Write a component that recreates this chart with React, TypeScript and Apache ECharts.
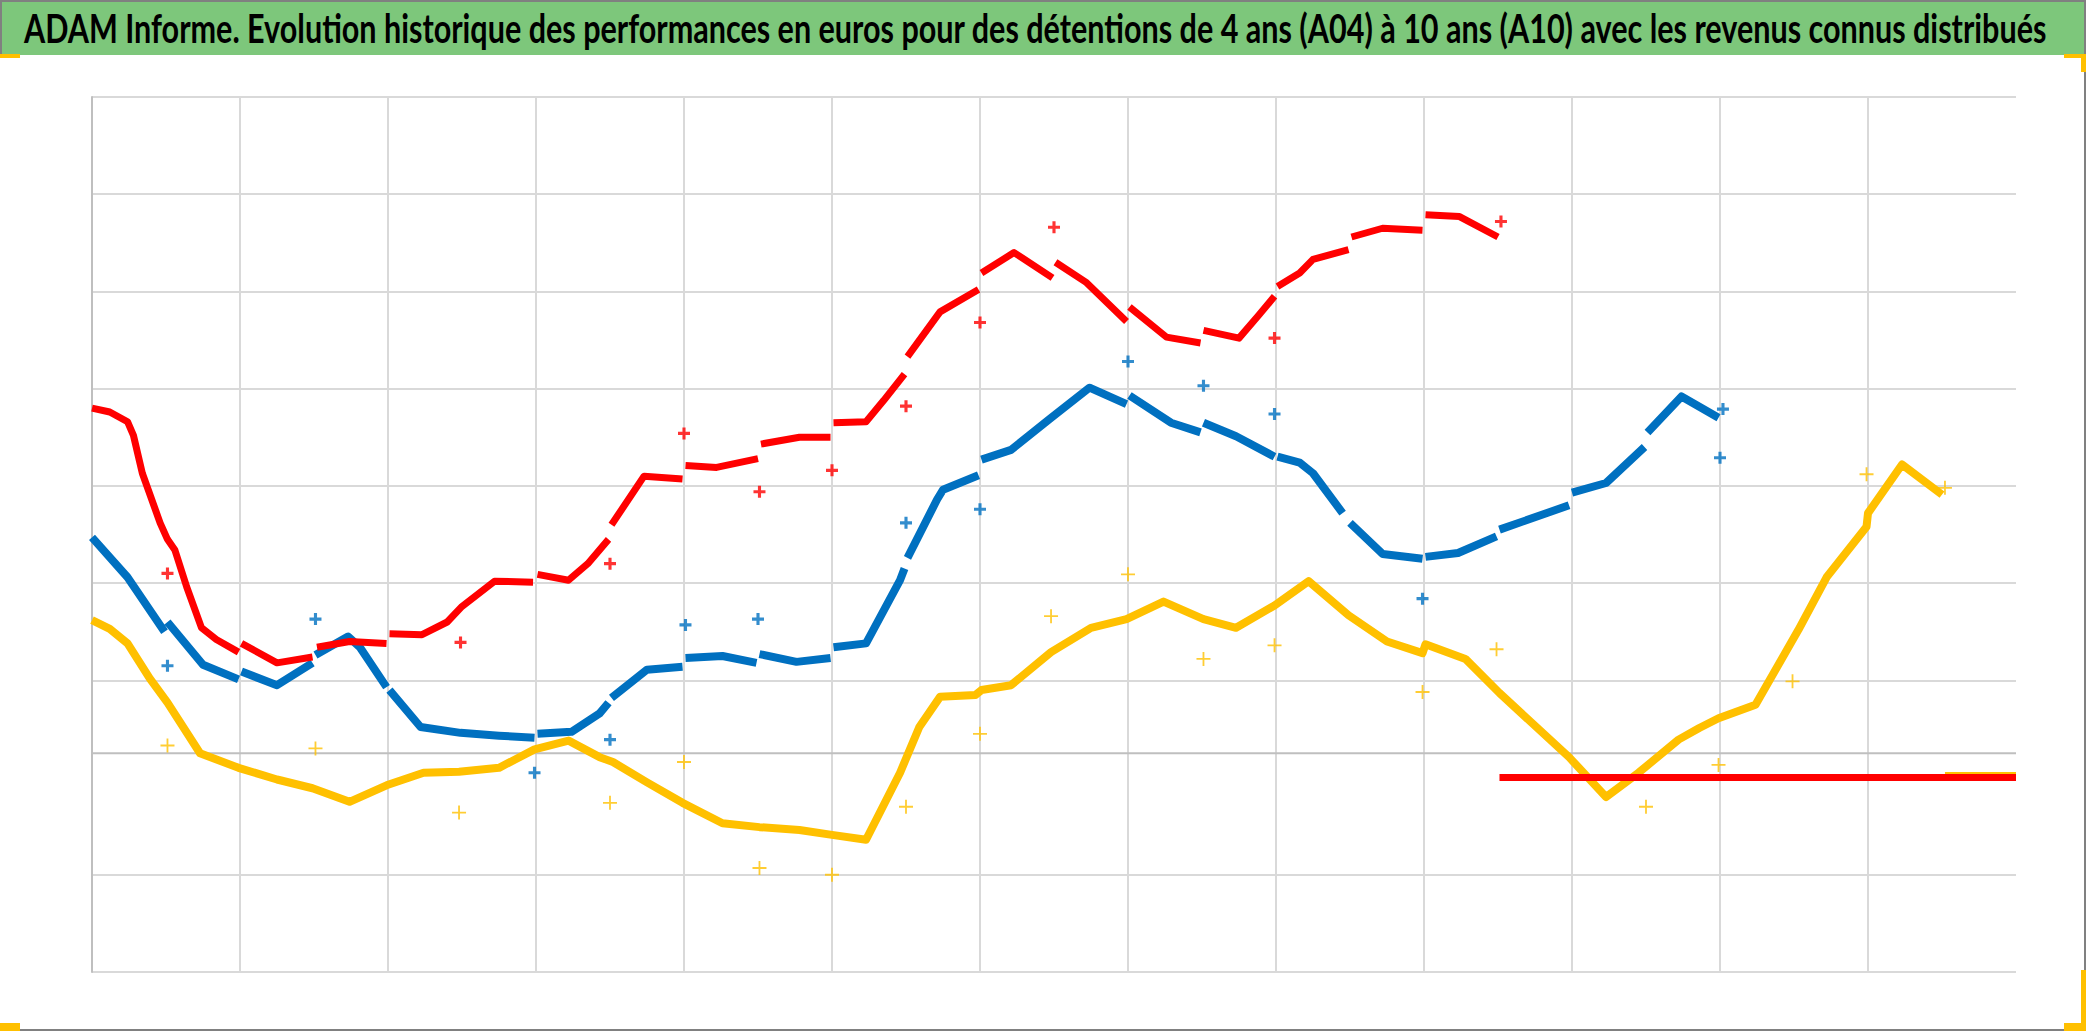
import React, { useEffect, useRef } from 'react';
import * as echarts from 'echarts';

const TITLE =
  'ADAM Informe. Evolution historique des performances en euros pour des détentions de 4 ans (A04) à 10 ans (A10) avec les revenus connus distribués';

// Axis extents (abstract units: one unit per gridline step, no labels are shown)
const X_MIN = 0;
const X_MAX = 13;
const Y_MIN = 0;
const Y_MAX = 9;
const HIDDEN_GRIDLINE = 2; // this horizontal gridline is not drawn in the original
const AXIS_CROSS = 2.25; // darker horizontal axis line

// Main (dense) series, split into segments where the original jumps
const RED_SEGMENTS: number[][][] = [
  [[0.0, 5.8], [0.12, 5.76], [0.24, 5.66], [0.28, 5.52], [0.34, 5.13], [0.46, 4.62], [0.51, 4.45], [0.56, 4.34], [0.64, 3.96], [0.74, 3.54], [0.84, 3.42], [0.99, 3.29]],
  [[1.01, 3.38], [1.25, 3.18], [1.49, 3.24]],
  [[1.52, 3.34], [1.74, 3.4], [1.99, 3.38]],
  [[2.01, 3.48], [2.23, 3.47], [2.4, 3.6], [2.5, 3.76], [2.72, 4.02], [2.98, 4.01]],
  [[3.01, 4.09], [3.22, 4.03], [3.35, 4.2], [3.49, 4.45]],
  [[3.51, 4.6], [3.73, 5.1], [3.99, 5.07]],
  [[4.01, 5.21], [4.22, 5.19], [4.5, 5.28]],
  [[4.52, 5.43], [4.78, 5.5], [4.99, 5.5]],
  [[5.01, 5.65], [5.23, 5.66], [5.35, 5.88], [5.49, 6.15]],
  [[5.51, 6.33], [5.73, 6.79], [5.99, 7.02]],
  [[6.01, 7.19], [6.23, 7.4], [6.49, 7.14]],
  [[6.51, 7.3], [6.72, 7.09], [6.99, 6.69]],
  [[7.01, 6.84], [7.26, 6.53], [7.49, 6.47]],
  [[7.51, 6.6], [7.75, 6.52], [7.88, 6.75], [7.99, 6.95]],
  [[8.01, 7.05], [8.16, 7.19], [8.25, 7.33], [8.49, 7.43]],
  [[8.51, 7.56], [8.72, 7.65], [8.99, 7.63]],
  [[9.01, 7.79], [9.24, 7.77], [9.5, 7.56]],
];

const BLUE_SEGMENTS: number[][][] = [
  [[0.0, 4.47], [0.24, 4.06], [0.49, 3.5]],
  [[0.51, 3.6], [0.75, 3.16], [0.99, 3.01]],
  [[1.01, 3.09], [1.25, 2.95], [1.49, 3.18]],
  [[1.51, 3.26], [1.73, 3.45], [1.81, 3.34], [1.99, 2.93]],
  [[2.01, 2.9], [2.22, 2.52], [2.49, 2.46], [2.75, 2.43], [2.99, 2.41]],
  [[3.01, 2.45], [3.24, 2.47], [3.43, 2.66], [3.49, 2.77]],
  [[3.51, 2.82], [3.75, 3.11], [3.99, 3.14]],
  [[4.01, 3.23], [4.26, 3.25], [4.49, 3.18]],
  [[4.51, 3.27], [4.76, 3.19], [4.99, 3.23]],
  [[5.01, 3.34], [5.23, 3.38], [5.46, 4.03], [5.49, 4.15]],
  [[5.51, 4.26], [5.71, 4.86], [5.75, 4.96], [5.99, 5.11]],
  [[6.01, 5.27], [6.21, 5.37], [6.48, 5.7], [6.74, 6.01], [6.99, 5.84]],
  [[7.01, 5.93], [7.29, 5.65], [7.49, 5.55]],
  [[7.51, 5.65], [7.73, 5.51], [7.99, 5.3]],
  [[8.01, 5.3], [8.16, 5.24], [8.25, 5.13], [8.45, 4.72]],
  [[8.5, 4.62], [8.72, 4.3], [8.99, 4.25]],
  [[9.01, 4.27], [9.23, 4.31], [9.49, 4.48]],
  [[9.51, 4.55], [9.98, 4.8]],
  [[10.0, 4.93], [10.23, 5.03], [10.49, 5.4]],
  [[10.51, 5.55], [10.74, 5.92], [10.99, 5.7]],
];

const YELLOW_SEGMENTS: number[][][] = [
  [[0.0, 3.62], [0.12, 3.53], [0.24, 3.38], [0.39, 3.02], [0.51, 2.77], [0.73, 2.25], [0.99, 2.1], [1.25, 1.98], [1.49, 1.89], [1.74, 1.75], [1.99, 1.92], [2.24, 2.05], [2.48, 2.06], [2.75, 2.1], [2.99, 2.29], [3.22, 2.38], [3.43, 2.21], [3.52, 2.16], [3.75, 1.95], [3.99, 1.74], [4.26, 1.53], [4.51, 1.49], [4.78, 1.46], [5.0, 1.41], [5.23, 1.36], [5.46, 2.05], [5.59, 2.52], [5.73, 2.83], [5.97, 2.85], [6.01, 2.9], [6.21, 2.95], [6.48, 3.29], [6.75, 3.54], [6.99, 3.63], [7.24, 3.81], [7.51, 3.63], [7.73, 3.54], [7.99, 3.77], [8.22, 4.02], [8.49, 3.67], [8.75, 3.4], [8.99, 3.28], [9.01, 3.37], [9.28, 3.22], [9.51, 2.87], [9.98, 2.21], [10.23, 1.8], [10.45, 2.05], [10.72, 2.39], [10.86, 2.51], [10.99, 2.61], [11.24, 2.75], [11.53, 3.52], [11.72, 4.06], [11.99, 4.58], [12.0, 4.72], [12.23, 5.22], [12.5, 4.91]],
];

// Constant tail values after the last known point of each series
const RED_FLAT = [[9.51, 2.0], [13.0, 2.0]];
const BLUE_FLAT = [[11.0, 2.0], [13.0, 2.0]];
const YELLOW_FLAT = [[12.52, 2.02], [13.0, 2.02]];

// Isolated points (distributed income days)
const RED_OUTLIERS = [[0.51, 4.1], [2.49, 3.39], [3.5, 4.2], [4.0, 5.54], [4.51, 4.94], [5.0, 5.16], [5.5, 5.82], [6.0, 6.68], [6.5, 7.66], [7.99, 6.52], [9.52, 7.72]];
const BLUE_OUTLIERS = [[0.51, 3.15], [1.51, 3.63], [2.99, 2.05], [3.5, 2.39], [4.01, 3.57], [4.5, 3.63], [5.5, 4.62], [6.0, 4.76], [7.0, 6.28], [7.51, 6.03], [7.99, 5.74], [8.99, 3.84], [11.0, 5.29], [11.02, 5.79]];
const YELLOW_OUTLIERS = [[0.51, 2.33], [1.51, 2.3], [2.48, 1.64], [3.5, 1.74], [4.0, 2.16], [4.51, 1.07], [5.0, 1.0], [5.5, 1.7], [6.0, 2.45], [6.48, 3.66], [7.0, 4.09], [7.51, 3.22], [7.99, 3.36], [8.99, 2.88], [9.49, 3.32], [10.5, 1.7], [10.99, 2.13], [11.49, 2.99], [11.99, 5.12], [12.52, 4.98]];

const RED = '#FF0000';
const BLUE = '#0070C0';
const YELLOW = '#FFC000';

const PLUS_BOLD = 'path://M3.7,0H6.3V3.7H10V6.3H6.3V10H3.7V6.3H0V3.7H3.7Z';
const PLUS_THIN = 'path://M4.35,0H5.65V4.35H10V5.65H5.65V10H4.35V5.65H0V4.35H4.35Z';

const W = 2086;
const H = 1031;
const BAR_H = 55;

const buildLine = (segments: number[][][]) =>
  segments.flatMap((seg, i) => (i === 0 ? seg : [['-', '-'], ...seg]));

export default function App() {
  const ref = useRef<HTMLDivElement>(null);

  useEffect(() => {
    document.body.style.margin = '0';
    if (!ref.current) return;
    const chart = echarts.init(ref.current, null, { renderer: 'svg' });

    const titleFont = 'bold 40px Lato';
    const ctx = document.createElement('canvas').getContext('2d')!;
    ctx.font = titleFont;
    const measured = ctx.measureText(TITLE).width || 2025;
    const titleScale = 2025 / measured;

    const yTickCount = Y_MAX - Y_MIN + 1;
    const hColors = Array.from({ length: yTickCount }, (_, i) =>
      Y_MIN + i === HIDDEN_GRIDLINE ? 'rgba(0,0,0,0)' : '#d9d9d9'
    );

    const mainLine = (name: string, segs: number[][][], color: string, width: number, z: number) => ({
      name,
      type: 'line',
      data: buildLine(segs),
      symbol: 'none',
      showSymbol: false,
      connectNulls: false,
      silent: true,
      z,
      lineStyle: { color, width, join: 'round', cap: 'butt' },
    });
    const flatLine = (name: string, data: number[][], color: string, z: number) => ({
      name,
      type: 'line',
      data,
      symbol: 'none',
      silent: true,
      z,
      lineStyle: { color, width: 7, type: 'solid' },
    });
    const outliers = (name: string, data: number[][], color: string, sym: string, size: number) => ({
      name,
      type: 'scatter',
      data,
      symbol: sym,
      symbolSize: size,
      silent: true,
      z: 8,
      itemStyle: { color },
    });

    const option: any = {
      animation: false,
      backgroundColor: '#ffffff',
      grid: { left: 92, right: 70, top: 97, bottom: 59, containLabel: false },
      xAxis: {
        type: 'value',
        min: X_MIN,
        max: X_MAX,
        interval: 1,
        axisLine: { show: false },
        axisTick: { show: false },
        axisLabel: { show: false },
        splitLine: { show: true, showMinLine: false, showMaxLine: false, lineStyle: { color: '#d9d9d9', width: 2 } },
      },
      yAxis: {
        type: 'value',
        min: Y_MIN,
        max: Y_MAX,
        interval: 1,
        axisLine: { show: true, onZero: false, lineStyle: { color: '#bfbfbf', width: 2 } },
        axisTick: { show: false },
        axisLabel: { show: false },
        splitLine: { show: true, lineStyle: { color: hColors, width: 2 } },
      },
      series: [
        {
          name: 'axe',
          type: 'line',
          data: [[X_MIN, AXIS_CROSS], [X_MAX, AXIS_CROSS]],
          symbol: 'none',
          silent: true,
          z: 1,
          lineStyle: { color: '#bfbfbf', width: 2 },
        },
        mainLine('A10 jaune', YELLOW_SEGMENTS, YELLOW, 8, 2),
        mainLine('A07 bleu', BLUE_SEGMENTS, BLUE, 8, 3),
        mainLine('A04 rouge', RED_SEGMENTS, RED, 7, 4),
        flatLine('jaune fin', YELLOW_FLAT, YELLOW, 5),
        flatLine('bleu fin', BLUE_FLAT, BLUE, 6),
        flatLine('rouge fin', RED_FLAT, RED, 7),
        outliers('jaune revenus', YELLOW_OUTLIERS, YELLOW, PLUS_THIN, 14),
        outliers('bleu revenus', BLUE_OUTLIERS, BLUE, PLUS_BOLD, 12),
        outliers('rouge revenus', RED_OUTLIERS, RED, PLUS_BOLD, 12),
      ],
      graphic: [
        { type: 'rect', z: 0, shape: { x: 0, y: 0, width: W, height: BAR_H }, style: { fill: '#7DC77B' } },
        {
          type: 'polyline',
          z: 1,
          shape: { points: [[1, BAR_H], [1, 1], [W - 1, 1], [W - 1, H - 1], [0, H - 1]] },
          style: { stroke: '#808080', lineWidth: 2, fill: 'none' },
        },
        {
          type: 'text',
          z: 2,
          x: 24,
          y: 28,
          scaleX: titleScale,
          scaleY: 1,
          style: { text: TITLE, font: titleFont, fill: '#000000', align: 'left', verticalAlign: 'middle' },
        },
        { type: 'rect', z: 3, shape: { x: 0, y: BAR_H - 1, width: 20, height: 4 }, style: { fill: YELLOW } },
        { type: 'rect', z: 3, shape: { x: W - 22, y: BAR_H - 1, width: 22, height: 4 }, style: { fill: YELLOW } },
        { type: 'rect', z: 3, shape: { x: W - 5, y: BAR_H - 1, width: 5, height: 18 }, style: { fill: YELLOW } },
        { type: 'rect', z: 3, shape: { x: 0, y: H - 8, width: 20, height: 8 }, style: { fill: YELLOW } },
        { type: 'rect', z: 3, shape: { x: W - 5, y: 970, width: 5, height: H - 970 }, style: { fill: YELLOW } },
        { type: 'rect', z: 3, shape: { x: W - 22, y: H - 8, width: 22, height: 8 }, style: { fill: YELLOW } },
      ],
    };

    chart.setOption(option);
    return () => chart.dispose();
  }, []);

  return <div ref={ref} style={{ position: 'fixed', left: 0, top: 0, width: W, height: H }} />;
}
